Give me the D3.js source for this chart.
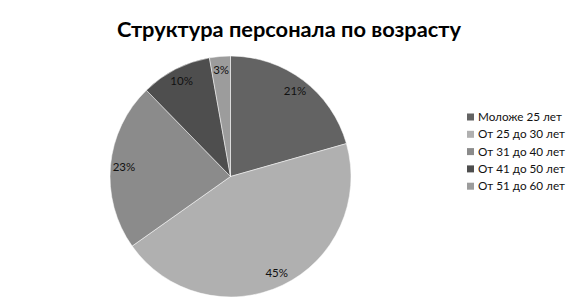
<!DOCTYPE html>
<html>
<head>
<meta charset="utf-8">
<script src="https://cdn.jsdelivr.net/npm/d3@7/dist/d3.min.js"></script>
<style>
  html, body { margin: 0; padding: 0; background: #fff; }
  svg { display: block; font-family: Lato, "Open Sans", sans-serif; }
</style>
</head>
<body>
<div id="chart"></div>
<script>
// Age structure of staff — shares, labels as printed
const categories = ['Моложе 25 лет', 'От 25 до 30 лет', 'От 31 до 40 лет', 'От 41 до 50 лет', 'От 51 до 60 лет'];
const shares = [20.6, 44.6, 22.5, 9.5, 2.8];
const colors = ['#636363', '#b0b0b0', '#8b8b8b', '#4e4e4e', '#9c9c9c'];
const title = 'Структура персонала по возрасту';

(function () {
    const width = 576;
    const height = 303;
    const cx = 230.5;
    const cy = 176.5;
    const radius = 120.5;

    const svg = d3.select('#chart')
        .append('svg')
        .attr('width', width)
        .attr('height', height);

    svg.append('text')
        .attr('x', 289)
        .attr('y', 37)
        .attr('text-anchor', 'middle')
        .attr('font-size', '21.8px')
        .attr('font-weight', 'bold')
        .attr('fill', '#000')
        .text(title);

    const data = categories.map((c, i) => ({ name: c, value: shares[i], color: colors[i] }));
    const total = d3.sum(shares);

    const pie = d3.pie().sort(null).value((d) => d.value);
    const arc = d3.arc().innerRadius(0).outerRadius(radius);
    const labelArc = d3.arc().innerRadius(107).outerRadius(107);

    const g = svg.append('g').attr('transform', `translate(${cx},${cy})`);
    const arcs = pie(data);

    g.selectAll('path')
        .data(arcs)
        .join('path')
        .attr('d', arc)
        .attr('fill', (d) => d.data.color)
        .attr('stroke', '#fff')
        .attr('stroke-width', 0.5);

    g.selectAll('text')
        .data(arcs)
        .join('text')
        .attr('transform', (d) => `translate(${labelArc.centroid(d)})`)
        .attr('text-anchor', 'middle')
        .attr('dy', '0.35em')
        .attr('font-size', '11.5px')
        .attr('fill', '#111')
        .text((d) => Math.round(d.data.value / total * 100) + '%');

    const legend = svg.append('g').attr('transform', 'translate(467,117)');
    const row = legend.selectAll('g')
        .data(data)
        .join('g')
        .attr('transform', (d, i) => `translate(0,${i * 17.3})`);

    row.append('rect')
        .attr('x', 0)
        .attr('y', -3.5)
        .attr('width', 7)
        .attr('height', 7)
        .attr('fill', (d) => d.color);

    row.append('text')
        .attr('x', 11)
        .attr('dy', '0.35em')
        .attr('font-size', '11.7px')
        .attr('fill', '#111')
        .text((d) => d.name);
})();
</script>
</body>
</html>
